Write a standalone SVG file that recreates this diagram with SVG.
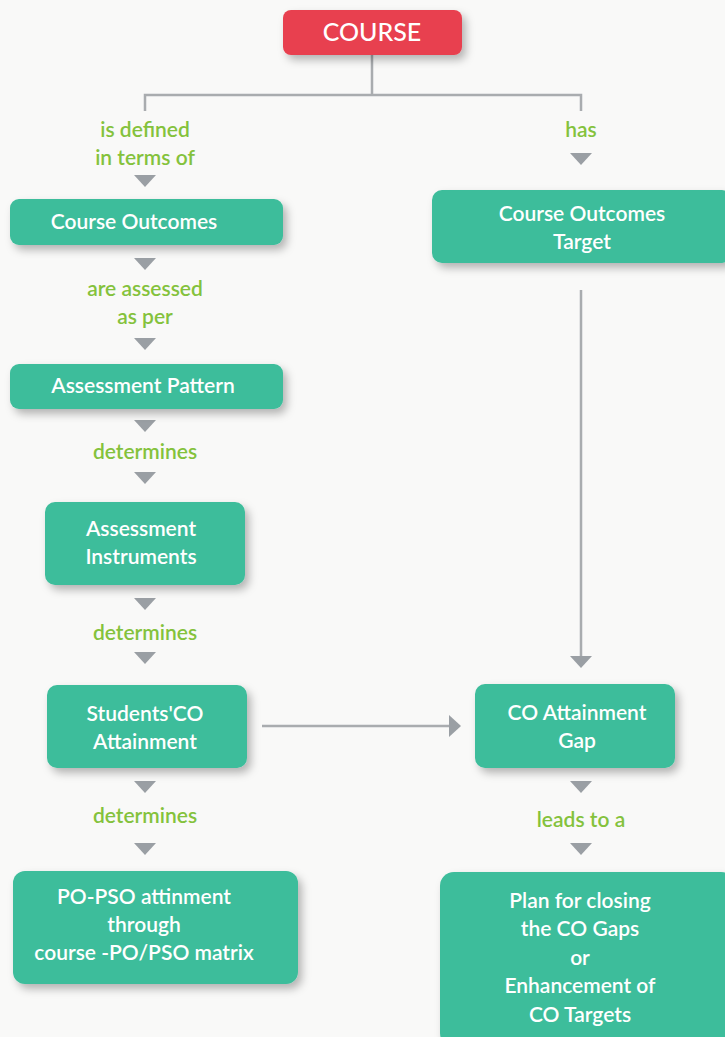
<svg xmlns="http://www.w3.org/2000/svg" width="725" height="1037" viewBox="0 0 725 1037">
  <style>
    .node { fill: #3dbd9b; }
    .root { fill: #e8414f; }
    .ntext { font-family: Lato, "Open Sans", sans-serif; font-weight: 600; font-size: 21px; fill: #ffffff; text-anchor: middle; }
    .rtext { font-family: Lato, "Open Sans", sans-serif; font-weight: 500; font-size: 25px; fill: #ffffff; text-anchor: middle; }
    .lbl { font-family: Lato, "Open Sans", sans-serif; font-weight: 600; font-size: 21px; fill: #84c23c; text-anchor: middle; }
    .wire { stroke: #a9acaf; stroke-width: 2.5; fill: none; }
    .tri { fill: #9a9fa4; }
  </style>
  <defs>
    <filter id="shadow" x="-10%" y="-20%" width="125%" height="150%">
      <feDropShadow dx="4" dy="5" stdDeviation="4" flood-color="#000000" flood-opacity="0.28"/>
    </filter>
    <path id="down" d="M-11,0 L11,0 L0,12 Z"/>
  </defs>
  <rect width="725" height="1037" fill="#f9f9f8"/>

  <!-- connectors -->
  <g id="connectors">
    <path class="wire" d="M372,55 V95 M145,111 V95 H581 V111"/>
    <use href="#down" class="tri" x="145" y="175"/>
    <use href="#down" class="tri" x="581" y="153"/>
    <use href="#down" class="tri" x="145" y="258"/>
    <use href="#down" class="tri" x="145" y="338"/>
    <use href="#down" class="tri" x="145" y="420"/>
    <use href="#down" class="tri" x="145" y="472"/>
    <use href="#down" class="tri" x="145" y="598"/>
    <use href="#down" class="tri" x="145" y="652"/>
    <use href="#down" class="tri" x="145" y="781"/>
    <use href="#down" class="tri" x="145" y="843"/>
    <use href="#down" class="tri" x="581" y="781"/>
    <use href="#down" class="tri" x="581" y="843"/>
    <!-- target to gap -->
    <path class="wire" d="M581,290 V656"/>
    <use href="#down" class="tri" x="581" y="656"/>
    <!-- attainment to gap -->
    <path class="wire" d="M262,726 H449"/>
    <path class="tri" d="M449,715 L461,726 L449,737 Z"/>
  </g>

  <!-- connector labels -->
  <g id="labels">
    <text class="lbl" x="145" y="137">is defined</text>
    <text class="lbl" x="145" y="165">in terms of</text>
    <text class="lbl" x="581" y="137">has</text>
    <text class="lbl" x="145" y="296">are assessed</text>
    <text class="lbl" x="145" y="324">as per</text>
    <text class="lbl" x="145" y="459">determines</text>
    <text class="lbl" x="145" y="640">determines</text>
    <text class="lbl" x="145" y="823">determines</text>
    <text class="lbl" x="581" y="827">leads to a</text>
  </g>

  <g id="course">
    <rect class="root" x="283" y="10" width="179" height="45" rx="8" filter="url(#shadow)"/>
    <text class="rtext" x="372" y="41">COURSE</text>
  </g>

  <g id="course-outcomes">
    <rect class="node" x="10" y="199" width="273" height="46" rx="9" filter="url(#shadow)"/>
    <text class="ntext" x="134" y="229">Course Outcomes</text>
  </g>

  <g id="co-target">
    <rect class="node" x="432" y="190" width="300" height="73" rx="10" filter="url(#shadow)"/>
    <text class="ntext" x="582" y="221">Course Outcomes</text>
    <text class="ntext" x="582" y="249">Target</text>
  </g>

  <g id="assessment-pattern">
    <rect class="node" x="10" y="364" width="273" height="45" rx="9" filter="url(#shadow)"/>
    <text class="ntext" x="143" y="393">Assessment Pattern</text>
  </g>

  <g id="assessment-instruments">
    <rect class="node" x="45" y="502" width="200" height="83" rx="10" filter="url(#shadow)"/>
    <text class="ntext" x="141" y="536">Assessment</text>
    <text class="ntext" x="141" y="564">Instruments</text>
  </g>

  <g id="students-co-attainment">
    <rect class="node" x="47" y="685" width="200" height="83" rx="10" filter="url(#shadow)"/>
    <text class="ntext" x="145" y="721">Students'CO</text>
    <text class="ntext" x="145" y="749">Attainment</text>
  </g>

  <g id="co-attainment-gap">
    <rect class="node" x="475" y="684" width="200" height="84" rx="10" filter="url(#shadow)"/>
    <text class="ntext" x="577" y="720">CO Attainment</text>
    <text class="ntext" x="577" y="748">Gap</text>
  </g>

  <g id="po-pso-attainment">
    <rect class="node" x="13" y="871" width="285" height="113" rx="12" filter="url(#shadow)"/>
    <text class="ntext" x="144" y="904">PO-PSO attinment</text>
    <text class="ntext" x="144" y="932">through</text>
    <text class="ntext" x="144" y="960">course -PO/PSO matrix</text>
  </g>

  <g id="closing-plan">
    <rect class="node" x="440" y="872" width="295" height="175" rx="14" filter="url(#shadow)"/>
    <text class="ntext" x="580" y="908">Plan for closing</text>
    <text class="ntext" x="580" y="936">the CO Gaps</text>
    <text class="ntext" x="580" y="965">or</text>
    <text class="ntext" x="580" y="993">Enhancement of</text>
    <text class="ntext" x="580" y="1022">CO Targets</text>
  </g>
</svg>
